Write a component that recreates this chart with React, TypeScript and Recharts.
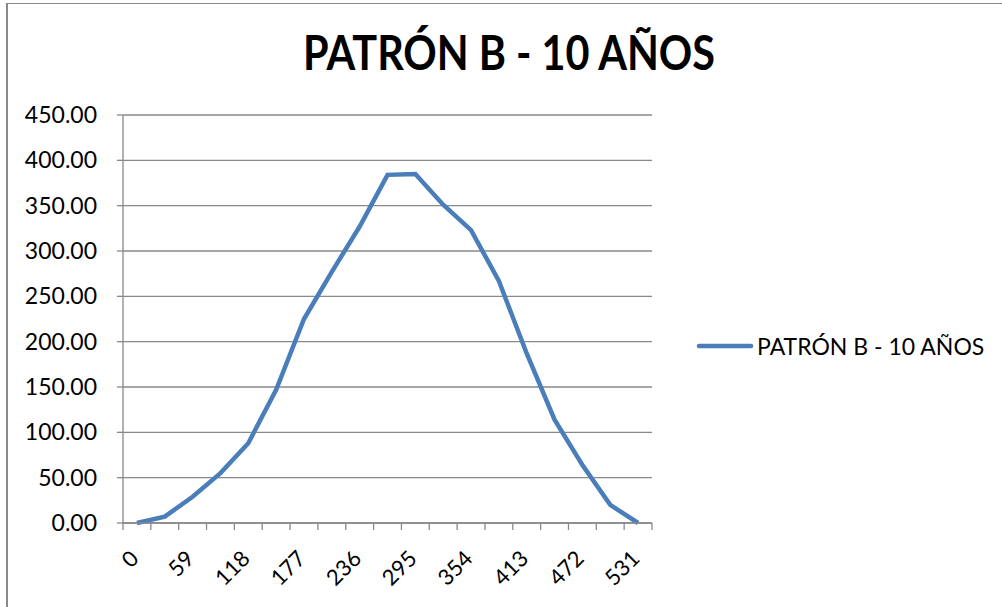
import React from 'react';
import { LineChart, Line, XAxis, YAxis, CartesianGrid } from 'recharts';

const title = 'PATRÓN B - 10 AÑOS';
const seriesName = 'PATRÓN B - 10 AÑOS';

const categories = [
  '0', '29.5', '59', '88.5', '118', '147.5', '177', '206.5', '236', '265.5',
  '295', '324.5', '354', '383.5', '413', '442.5', '472', '501.5', '531',
];
const values = [0, 7, 29, 55, 88, 147, 225, 277, 327, 384, 385, 351, 323, 267, 187, 114, 64, 20, 0];
const yTicks = [0, 50, 100, 150, 200, 250, 300, 350, 400, 450];

const data = categories.map((c, i) => ({ cat: c, v: values[i] }));

const W = 1002;
const H = 607;
const PLOT_LEFT = 123;
const PLOT_RIGHT = 652;
const PLOT_TOP = 115;
const PLOT_BOTTOM = 523;
const Y_AXIS_W = 80;
const X_AXIS_H = 70;
const BAND = (PLOT_RIGHT - PLOT_LEFT) / categories.length;

const GRID = '#898989';
const LINE = '#4a7ebb';
const FONT = 'Lato, "Liberation Sans", sans-serif';

// category labels sit between tick marks, every other one is labelled
const XTick = (props: any) => {
  const { x, payload, index } = props;
  const i = index ?? payload?.index ?? 0;
  const top = PLOT_BOTTOM;
  const lx = x + 3;
  const ly = top + 37;
  return (
    <g>
      <line x1={x - BAND / 2} x2={x - BAND / 2} y1={top} y2={top + 7} stroke={GRID} strokeWidth={1.3} />
      {i === categories.length - 1 && (
        <line x1={x + BAND / 2} x2={x + BAND / 2} y1={top} y2={top + 7} stroke={GRID} strokeWidth={1.3} />
      )}
      {i % 2 === 0 && (
        <text
          x={lx}
          y={ly}
          textAnchor="end"
          fontSize={22}
          fontFamily={FONT}
          fill="#000"
          transform={`rotate(-45, ${lx}, ${ly})`}
        >
          {payload.value}
        </text>
      )}
    </g>
  );
};

export default function App() {
  return (
    <div style={{ position: 'absolute', left: 0, top: 0, width: W, height: H, background: '#fff', overflow: 'hidden' }}>
      <div
        style={{
          position: 'absolute',
          left: 6,
          top: 3,
          width: W,
          height: H,
          borderLeft: `2px solid ${GRID}`,
          borderTop: `1.5px solid ${GRID}`,
        }}
      />
      <svg width={W} height={100} style={{ position: 'absolute', left: 0, top: 0 }}>
        <text
          x={509}
          y={70}
          textAnchor="middle"
          fontFamily={FONT}
          fontWeight={700}
          fontSize={47}
          textLength={412}
          lengthAdjust="spacingAndGlyphs"
          fill="#000"
        >
          {title}
        </text>
      </svg>
      <LineChart
        width={W}
        height={H}
        data={data}
        margin={{ top: PLOT_TOP, right: W - PLOT_RIGHT, bottom: H - PLOT_BOTTOM - X_AXIS_H, left: PLOT_LEFT - Y_AXIS_W }}
        style={{ position: 'absolute', left: 0, top: 0 }}
      >
        <CartesianGrid vertical={false} stroke={GRID} strokeWidth={1.3} />
        <XAxis
          dataKey="cat"
          interval={0}
          height={X_AXIS_H}
          padding={{ left: BAND / 2, right: BAND / 2 }}
          axisLine={{ stroke: GRID, strokeWidth: 1.3 }}
          tickLine={false}
          tick={<XTick />}
        />
        <YAxis
          domain={[0, 450]}
          ticks={yTicks}
          width={Y_AXIS_W}
          axisLine={{ stroke: GRID, strokeWidth: 1.3 }}
          tickLine={{ stroke: GRID, strokeWidth: 1.3 }}
          tickSize={6}
          tickMargin={20}
          tickFormatter={(v: number) => v.toFixed(2)}
          tick={{ fill: '#000', fontSize: 23, fontFamily: FONT }}
        />
        <Line
          type="linear"
          dataKey="v"
          name={seriesName}
          stroke={LINE}
          strokeWidth={4.5}
          dot={false}
          activeDot={false}
          isAnimationActive={false}
        />
      </LineChart>
      <div
        style={{
          position: 'absolute',
          left: 695,
          top: 332,
          display: 'flex',
          alignItems: 'center',
          fontFamily: FONT,
          fontSize: 23,
          color: '#000',
          whiteSpace: 'nowrap',
        }}
      >
        <svg width={60} height={10} style={{ marginRight: 2 }}>
          <line x1={4} x2={56} y1={5} y2={5} stroke={LINE} strokeWidth={4.5} strokeLinecap="round" />
        </svg>
        <span>{seriesName}</span>
      </div>
    </div>
  );
}
